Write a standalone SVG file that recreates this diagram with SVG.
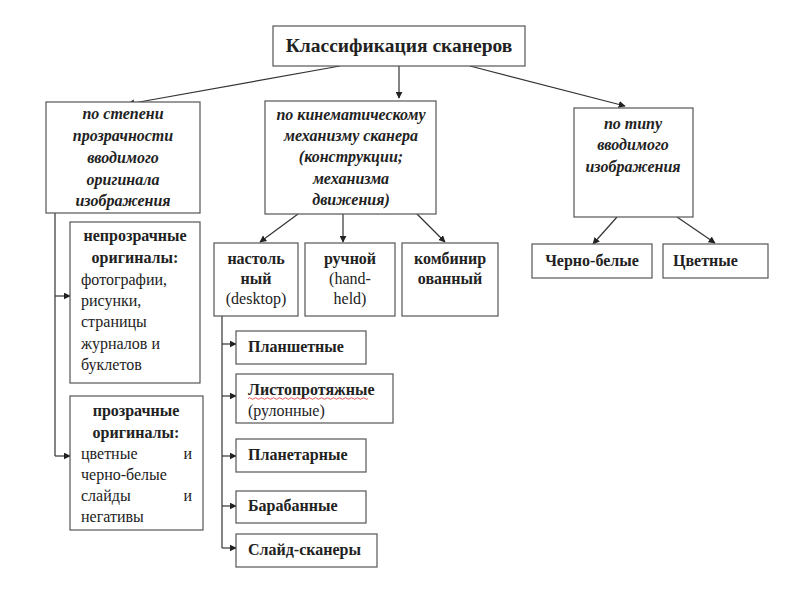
<svg xmlns="http://www.w3.org/2000/svg" width="800" height="600" viewBox="0 0 800 600">
<defs>
<marker id="ah" viewBox="0 0 10 10" refX="9" refY="5" markerWidth="7" markerHeight="7" markerUnits="userSpaceOnUse" orient="auto">
<path d="M0,0 L10,5 L0,10 z" fill="#222"/>
</marker>
<style>
.box{fill:#fff;stroke:#555;stroke-width:1.2}
.ln{fill:none;stroke:#333;stroke-width:1.2}
.ar{fill:none;stroke:#333;stroke-width:1.2;marker-end:url(#ah)}
text{font-family:"Liberation Serif","DejaVu Serif",serif;fill:#222}
.t{font-size:19.5px;font-weight:bold}
.it{font-size:16px;font-weight:bold;font-style:italic}
.b{font-size:16px;font-weight:bold}
.r{font-size:16px}
.c{text-anchor:middle}
</style>
</defs>
<rect width="800" height="600" fill="#fff"/>
<g id="connectors">
<path class="ar" d="M340,66 L128,104"/>
<path class="ar" d="M399,66 L399,98"/>
<path class="ar" d="M470,66 L625,106"/>
<path class="ar" d="M298,214 L260,242"/>
<path class="ar" d="M343,214 L343,242"/>
<path class="ar" d="M417,214 L445,242"/>
<path class="ar" d="M617,217 L593,244"/>
<path class="ar" d="M677,217 L715,243"/>
<path class="ln" d="M55,213 L55,456"/>
<path class="ar" d="M55,296 L70,296"/>
<path class="ar" d="M55,456 L70,456"/>
<path class="ln" d="M222,316 L222,548"/>
<path class="ar" d="M222,344 L236,344"/>
<path class="ar" d="M222,396 L236,396"/>
<path class="ar" d="M222,456 L236,456"/>
<path class="ar" d="M222,506 L236,506"/>
<path class="ar" d="M222,548 L236,548"/>
</g>
<g id="root">
<rect class="box" x="273" y="26" width="252" height="40"/>
<text class="t c" x="399" y="52">Классификация сканеров</text>
</g>
<g id="transparency">
<rect class="box" x="46" y="102" width="154" height="111"/>
<text class="it c" x="123" y="119">по степени</text>
<text class="it c" x="123" y="141">прозрачности</text>
<text class="it c" x="123" y="163">вводимого</text>
<text class="it c" x="123" y="185">оригинала</text>
<text class="it c" x="123" y="206">изображения</text>
</g>
<g id="kinematic">
<rect class="box" x="265" y="101" width="171" height="113"/>
<text class="it c" x="351" y="120">по кинематическому</text>
<text class="it c" x="351" y="141">механизму сканера</text>
<text class="it c" x="351" y="162">(конструкции;</text>
<text class="it c" x="351" y="184">механизма</text>
<text class="it c" x="351" y="205">движения)</text>
</g>
<g id="imagetype">
<rect class="box" x="574" y="108" width="119" height="109"/>
<text class="it c" x="633" y="129">по типу</text>
<text class="it c" x="633" y="150">вводимого</text>
<text class="it c" x="633" y="172">изображения</text>
</g>
<g id="opaque">
<rect class="box" x="70" y="222" width="130" height="161"/>
<text class="b c" x="135" y="241">непрозрачные</text>
<text class="b c" x="135" y="263">оригиналы:</text>
<text class="r" x="81" y="285">фотографии,</text>
<text class="r" x="81" y="306">рисунки,</text>
<text class="r" x="81" y="327">страницы</text>
<text class="r" x="81" y="349">журналов и</text>
<text class="r" x="81" y="370">буклетов</text>
</g>
<g id="transparent">
<rect class="box" x="70" y="396" width="133" height="134"/>
<text class="b c" x="136" y="416">прозрачные</text>
<text class="b c" x="136" y="438">оригиналы:</text>
<text class="r" x="81" y="459">цветные</text>
<text class="r" x="192" y="459" text-anchor="end">и</text>
<text class="r" x="81" y="480">черно-белые</text>
<text class="r" x="81" y="501">слайды</text>
<text class="r" x="192" y="501" text-anchor="end">и</text>
<text class="r" x="81" y="522">негативы</text>
</g>
<g id="desktop">
<rect class="box" x="214" y="243" width="84" height="73"/>
<text class="b c" x="256" y="264">настоль</text>
<text class="b c" x="256" y="284">ный</text>
<text class="r c" x="256" y="304">(desktop)</text>
</g>
<g id="handheld">
<rect class="box" x="305" y="243" width="90" height="73"/>
<text class="b c" x="350" y="264">ручной</text>
<text class="r c" x="350" y="284">(hand-</text>
<text class="r c" x="350" y="304">held)</text>
</g>
<g id="combined">
<rect class="box" x="402" y="243" width="96" height="73"/>
<text class="b c" x="450" y="264">комбинир</text>
<text class="b c" x="450" y="284">ованный</text>
</g>
<g id="bw">
<rect class="box" x="532" y="244" width="120" height="34"/>
<text class="b c" x="592" y="266">Черно-белые</text>
</g>
<g id="color">
<rect class="box" x="663" y="244" width="105" height="34"/>
<text class="b" x="673" y="266">Цветные</text>
</g>
<g id="flatbed">
<rect class="box" x="236" y="331" width="130" height="33"/>
<text class="b" x="248" y="352">Планшетные</text>
</g>
<g id="sheetfed">
<rect class="box" x="236" y="374" width="157" height="49"/>
<text class="b" x="248" y="395">Листопротяжные</text>
<path d="M248,398.5 q1.5,-1.5 3,0 t3,0 t3,0 t3,0 t3,0 t3,0 t3,0 t3,0 t3,0 t3,0 t3,0 t3,0 t3,0 t3,0 t3,0 t3,0 t3,0 t3,0 t3,0 t3,0 t3,0 t3,0 t3,0 t3,0 t3,0 t3,0 t3,0 t3,0 t3,0 t3,0 t3,0 t3,0 t3,0 t3,0 t3,0 t3,0 t3,0 t3,0 t3,0 t3,0" fill="none" stroke="#e03030" stroke-width="0.8"/>
<text class="r" x="248" y="416">(рулонные)</text>
</g>
<g id="planetary">
<rect class="box" x="236" y="439" width="130" height="33"/>
<text class="b" x="248" y="460">Планетарные</text>
</g>
<g id="drum">
<rect class="box" x="236" y="491" width="130" height="32"/>
<text class="b" x="248" y="511">Барабанные</text>
</g>
<g id="slide">
<rect class="box" x="236" y="534" width="141" height="33"/>
<text class="b" x="248" y="555">Слайд-сканеры</text>
</g>
</svg>
